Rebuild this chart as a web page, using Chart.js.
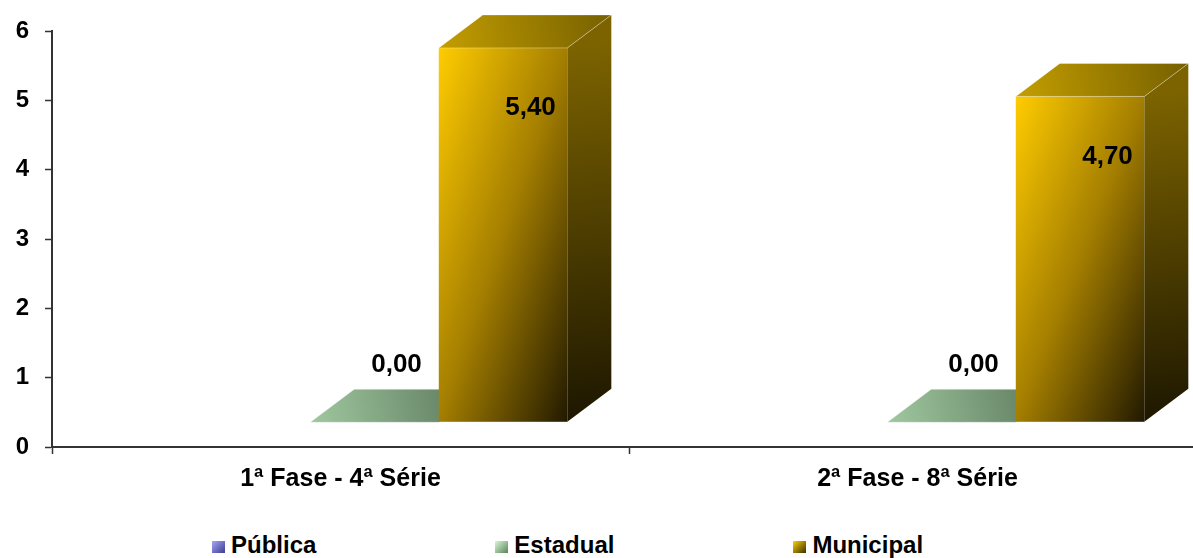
<!DOCTYPE html>
<html><head><meta charset="utf-8">
<script src="https://cdn.jsdelivr.net/npm/chart.js@4.4.1/dist/chart.umd.min.js"></script>
<style>
html,body{margin:0;padding:0;background:#fff;overflow:hidden;width:1193px;height:558px;}
#wrap{position:relative;width:1193px;height:558px;overflow:hidden;background:#fff;}
#chartBox{position:absolute;left:0;top:0;width:1230px;height:511px;}
#legend{position:absolute;left:0;top:530px;display:flex;gap:179px;padding-left:212px;font:bold 24px "Liberation Sans",Arial,sans-serif;line-height:29px;color:#000;white-space:nowrap;}
.item{display:flex;align-items:baseline;}
.sw{display:inline-block;width:12.5px;height:12.5px;margin-right:6.5px;}
</style></head><body>
<div id="wrap">
<div id="chartBox"><canvas id="c" width="1230" height="511"></canvas></div>
<div id="legend"></div>
</div>
<script>
// ---- data ----
const categories = ['1ª Fase - 4ª Série', '2ª Fase - 8ª Série'];
const seriesNames = ['Pública', 'Estadual', 'Municipal'];
const publica = [null, null];
const estadual = [0.00, 0.00];
const municipal = [5.40, 4.70];
const yTicks = [0, 1, 2, 3, 4, 5, 6];

// ---- styles ----
const FONT = '"Liberation Sans", Arial, sans-serif';
const legendSwatches = [
  ['#a4a4fa', '#3e3e8e'],
  ['#dcf6dc', '#568656'],
  ['#ffd200', '#3a2e00']
];
const faceStyles = [
  null,
  { front: ['#b8dcb8', '#5c7a5c'], top: ['#a0c8a0', '#587458'], side: ['#6a8a6a', '#2c3c2c'] },
  { front: ['#ffcc00', '#a47e00', '#221a00'], top: ['#c49e00', '#766000'], side: ['#7c6300', '#1c1600'] }
];
// 3D projection constants
const DX = 44, DY = -33, OX = 34, OY = -24.7;

function fmt(v) { return v.toFixed(2).replace('.', ','); }

const bars3d = {
  id: 'bars3d',
  afterDatasetsDraw(chart) {
    const ctx = chart.ctx;
    ctx.save();
    chart.data.datasets.forEach((ds, di) => {
      const st = faceStyles[di];
      if (!st) return;
      const meta = chart.getDatasetMeta(di);
      meta.data.forEach((el, i) => {
        const v = ds.data[i];
        if (v === null || v === undefined) return;
        const p = el.getProps(['x', 'y', 'base', 'width'], true);
        const x0 = p.x - p.width / 2 + OX, x1 = p.x + p.width / 2 + OX;
        const yT = Math.min(p.y, p.base) + OY, yB = Math.max(p.y, p.base) + OY;
        const w = x1 - x0, h = yB - yT;
        if (h > 0.5) {
          ctx.save();
          ctx.translate(x0, yT);
          ctx.scale(w, h);
          const g = ctx.createLinearGradient(0, 0, 1, 1);
          const s = st.front;
          s.forEach((c, k) => g.addColorStop(k / (s.length - 1), c));
          ctx.fillStyle = g;
          ctx.fillRect(0, 0, 1, 1);
          ctx.restore();
          const gs = ctx.createLinearGradient(x1, yT, x1 + DX, yB);
          gs.addColorStop(0, st.side[0]);
          gs.addColorStop(1, st.side[1]);
          ctx.fillStyle = gs;
          ctx.beginPath();
          ctx.moveTo(x1, yT); ctx.lineTo(x1 + DX, yT + DY);
          ctx.lineTo(x1 + DX, yB + DY); ctx.lineTo(x1, yB);
          ctx.closePath(); ctx.fill();
        }
        const gt = ctx.createLinearGradient(x0, yT, x1 + DX, yT + DY);
        gt.addColorStop(0, st.top[0]);
        gt.addColorStop(1, st.top[1]);
        ctx.fillStyle = gt;
        ctx.beginPath();
        ctx.moveTo(x0, yT); ctx.lineTo(x1, yT);
        ctx.lineTo(x1 + DX, yT + DY); ctx.lineTo(x0 + DX, yT + DY);
        ctx.closePath(); ctx.fill();
        ctx.strokeStyle = 'rgba(255,255,255,0.35)';
        ctx.lineWidth = 1;
        ctx.stroke();
      });
    });
    ctx.fillStyle = '#000';
    ctx.font = 'bold 26px ' + FONT;
    ctx.textBaseline = 'alphabetic';
    chart.data.datasets.forEach((ds, di) => {
      if (!faceStyles[di]) return;
      const meta = chart.getDatasetMeta(di);
      meta.data.forEach((el, i) => {
        const v = ds.data[i];
        if (v === null || v === undefined) return;
        const p = el.getProps(['x', 'y', 'base', 'width'], true);
        const x1 = p.x + p.width / 2 + OX;
        const yT = p.y + OY;
        if (v > 0) {
          ctx.textAlign = 'right';
          ctx.fillText(fmt(v), x1 - 11.5, yT + 67.5);
        } else {
          ctx.textAlign = 'center';
          ctx.fillText(fmt(v), p.x + OX + DX / 2, yT - 50);
        }
      });
    });
    ctx.restore();
  }
};

const chart = new Chart(document.getElementById('c'), {
  type: 'bar',
  data: {
    labels: categories,
    datasets: [
      { label: seriesNames[0], data: publica, backgroundColor: 'rgba(0,0,0,0)', borderWidth: 0 },
      { label: seriesNames[1], data: estadual, backgroundColor: 'rgba(0,0,0,0)', borderWidth: 0 },
      { label: seriesNames[2], data: municipal, backgroundColor: 'rgba(0,0,0,0)', borderWidth: 0 }
    ]
  },
  options: {
    responsive: false,
    animation: false,
    devicePixelRatio: 1,
    layout: { padding: { top: 31, right: 24, bottom: 7, left: 0 } },
    datasets: { bar: { categoryPercentage: 0.6684, barPercentage: 1 } },
    plugins: { legend: { display: false }, tooltip: { enabled: false } },
    scales: {
      x: {
        grid: { display: true, drawOnChartArea: false, drawTicks: true, tickLength: 7, tickColor: '#333', tickWidth: 1.5, offset: true },
        border: { display: true, color: '#333', width: 2 },
        ticks: { color: '#000', font: { family: FONT, size: 25, weight: 'bold' }, padding: 10, maxRotation: 0, autoSkip: false }
      },
      y: {
        min: 0, max: 6,
        afterBuildTicks: s => { s.ticks = yTicks.map(v => ({ value: v })); },
        afterFit: s => { s.width = 52; },
        grid: { display: true, drawOnChartArea: false, drawTicks: true, tickLength: 7, tickColor: '#333', tickWidth: 1.5 },
        border: { display: true, color: '#333', width: 2 },
        ticks: { color: '#000', font: { family: FONT, size: 24, weight: 'bold' }, padding: 16 }
      }
    }
  },
  plugins: [bars3d]
});

const lg = document.getElementById('legend');
seriesNames.forEach((n, i) => {
  const it = document.createElement('div');
  it.className = 'item';
  const sw = document.createElement('span');
  sw.className = 'sw';
  sw.style.background = 'linear-gradient(135deg,' + legendSwatches[i][0] + ',' + legendSwatches[i][1] + ')';
  const tx = document.createElement('span');
  tx.textContent = n;
  it.appendChild(sw); it.appendChild(tx);
  lg.appendChild(it);
});
</script>
</body></html>
